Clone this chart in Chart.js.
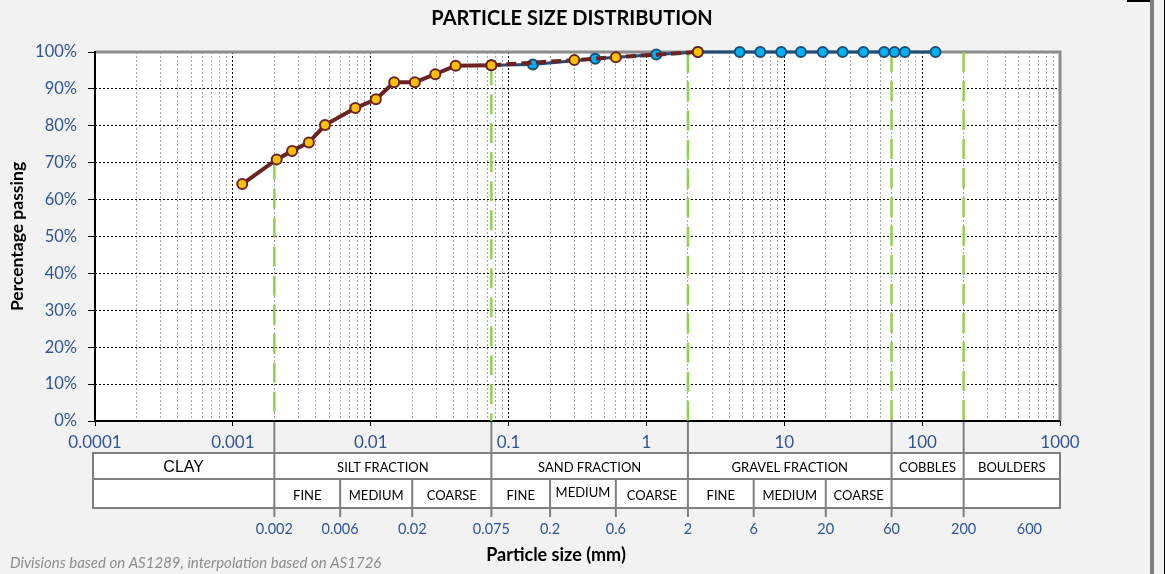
<!DOCTYPE html>
<html>
<head>
<meta charset="utf-8">
<title>Particle size distribution</title>
<script src="https://cdn.jsdelivr.net/npm/chart.js@4.4.1/dist/chart.umd.min.js"></script>
<style>
  html, body { margin: 0; padding: 0; background: #f2f2f2; }
  #wrap { width: 1165px; height: 574px; }
</style>
</head>
<body>
<div id="wrap"><canvas id="psd" width="1165" height="574"></canvas></div>
<script>
// hydrometer test, continued by the interpolated sieve points (dashed part)
const hydroSize = [0.00117, 0.00208, 0.00269, 0.00356, 0.00466, 0.00773, 0.0109, 0.0148, 0.0209, 0.0294, 0.0413, 0.075, 0.3, 0.6, 2.36];
const hydroPassing = [64.2, 70.9, 73.2, 75.5, 80.2, 84.8, 87.2, 91.8, 91.8, 94.0, 96.3, 96.4, 97.8, 98.6, 100];

// sieve analysis
const sieveSize = [0.075, 0.15, 0.425, 1.18, 2.36, 4.75, 6.7, 9.5, 13.2, 19, 26.5, 37.5, 53, 63, 75, 125];
const sievePassing = [96.4, 96.6, 98.2, 99.3, 100, 100, 100, 100, 100, 100, 100, 100, 100, 100, 100, 100];

// AS1289 division lines, drawn up to the interpolated % passing
const divisionSize = [0.002, 0.075, 2, 60, 200];
const divisionPassing = [70.8, 96.4, 99.8, 100, 100];

// classification table under the axis
const fractionBounds = [0.0001, 0.002, 0.075, 2, 60, 200, 1000];
const fractionNames = ['CLAY', 'SILT FRACTION', 'SAND FRACTION', 'GRAVEL FRACTION', 'COBBLES', 'BOULDERS'];
const subBounds = [0.002, 0.006, 0.02, 0.075, 0.2, 0.6, 2, 6, 20, 60];
const subNames = ['FINE', 'MEDIUM', 'COARSE', 'FINE', 'MEDIUM', 'COARSE', 'FINE', 'MEDIUM', 'COARSE'];
const boundaryLabels = ['0.002', '0.006', '0.02', '0.075', '0.2', '0.6', '2', '6', '20', '60', '200', '600'];

const blueText = '#2f5597';
const isDecade = v => Math.abs(Math.log10(v) - Math.round(Math.log10(v))) < 1e-6;

Chart.defaults.font.family = 'Lato';

const sheetPlugin = {
  id: 'sheet',
  beforeDraw(chart) {
    const { ctx, chartArea: a } = chart;
    ctx.save();
    ctx.fillStyle = '#f2f2f2';
    ctx.fillRect(0, 0, chart.width, chart.height);
    ctx.fillStyle = '#fff';
    ctx.fillRect(a.left, a.top, a.right - a.left, a.bottom - a.top);
    ctx.fillStyle = '#000';
    ctx.font = 'bold 20px Lato';
    ctx.textAlign = 'center';
    ctx.textBaseline = 'middle';
    ctx.fillText('PARTICLE SIZE DISTRIBUTION', 572, 19);
    ctx.restore();
  },
  beforeDatasetsDraw(chart) {
    const { ctx, chartArea: a } = chart;
    ctx.save();
    ctx.strokeStyle = '#8c8c8c';
    ctx.lineWidth = 3;
    ctx.beginPath();
    ctx.moveTo(a.left, a.top);
    ctx.lineTo(a.right, a.top);
    ctx.lineTo(a.right, a.bottom);
    ctx.stroke();
    ctx.strokeStyle = '#000';
    ctx.lineWidth = 2;
    ctx.beginPath();
    ctx.moveTo(a.left, a.top - 1);
    ctx.lineTo(a.left, a.bottom);
    ctx.lineTo(a.right, a.bottom);
    ctx.stroke();
    ctx.restore();
  },
  afterDraw(chart) {
    const { ctx, chartArea: a, scales: { x } } = chart;
    const px = v => x.getPixelForValue(v);
    const top = 453, mid = 479, bot = 508, lineEnd = 517;
    const left = px(fractionBounds[0]) - 2;
    const right = px(fractionBounds[fractionBounds.length - 1]);

    ctx.save();
    ctx.fillStyle = '#fff';
    ctx.fillRect(left, top, right - left, bot - top);
    ctx.strokeStyle = '#808080';
    ctx.lineWidth = 2;
    ctx.strokeRect(left, top, right - left, bot - top);
    ctx.beginPath();
    ctx.moveTo(left, mid);
    ctx.lineTo(right, mid);
    // main divisions run from the axis down through the table
    fractionBounds.slice(1, -1).forEach(v => {
      ctx.moveTo(px(v), a.bottom + 1);
      ctx.lineTo(px(v), lineEnd);
    });
    subBounds.forEach(v => {
      ctx.moveTo(px(v), mid);
      ctx.lineTo(px(v), lineEnd);
    });
    ctx.stroke();

    ctx.textAlign = 'center';
    ctx.textBaseline = 'middle';
    ctx.fillStyle = '#000';
    fractionNames.forEach((name, i) => {
      const l = i === 0 ? left : px(fractionBounds[i]);
      const r = px(fractionBounds[i + 1]);
      ctx.font = i === 0 ? '16px "Liberation Sans"' : '13px Lato';
      ctx.fillText(name, (l + r) / 2, 467.5);
    });
    ctx.font = '13px Lato';
    subNames.forEach((name, i) => {
      const c = (px(subBounds[i]) + px(subBounds[i + 1])) / 2;
      ctx.fillText(name, c, name === 'MEDIUM' && i === 4 ? 493 : 495.5);
    });

    ctx.fillStyle = blueText;
    ctx.font = '14.5px Lato';
    boundaryLabels.forEach(t => ctx.fillText(t, px(parseFloat(t)), 529));

    ctx.fillStyle = '#000';
    ctx.font = 'bold 18px Lato';
    ctx.fillText('Particle size (mm)', 556, 555);

    ctx.textAlign = 'left';
    ctx.fillStyle = '#8c8c8c';
    ctx.font = 'italic 15px Lato';
    ctx.fillText('Divisions based on AS1289, interpolation based on AS1726', 10, 563);

    // window frame at the right edge of the screenshot
    ctx.fillStyle = '#808080';
    ctx.fillRect(1150, 0, 4, chart.height);
    ctx.fillStyle = '#000';
    ctx.fillRect(1127, 0, 23, 2);
    ctx.fillRect(1164, 0, 1, chart.height);
    ctx.restore();
  }
};

const toPoints = (xs, ys) => xs.map((v, i) => ({ x: v, y: ys[i] }));

const divisionSets = divisionSize.map((v, i) => ({
  data: [{ x: v, y: divisionPassing[i] }, { x: v, y: 0 }],
  borderColor: '#92d050',
  borderWidth: 2.5,
  borderDash: [20, 9],
  pointRadius: 0,
  order: 3,
  clip: false
}));

new Chart(document.getElementById('psd'), {
  type: 'line',
  data: {
    datasets: [
      {
        label: 'Hydrometer',
        data: toPoints(hydroSize, hydroPassing),
        borderColor: '#6b2321',
        borderWidth: 4,
        pointBackgroundColor: '#ffc000',
        pointBorderColor: '#6b2321',
        pointBorderWidth: 2,
        pointRadius: 5,
        segment: {
          borderDash: c => (c.p0DataIndex >= 11 ? [10, 5] : undefined)
        },
        order: 1,
        clip: false
      },
      {
        label: 'Sieve',
        data: toPoints(sieveSize, sievePassing),
        borderColor: '#1f4e79',
        borderWidth: 3,
        pointBackgroundColor: '#00b0f0',
        pointBorderColor: '#1f4e79',
        pointBorderWidth: 2,
        pointRadius: 5,
        order: 2,
        clip: false
      },
      ...divisionSets
    ]
  },
  options: {
    responsive: false,
    animation: false,
    layout: { padding: { left: 0, right: 105, top: 52, bottom: 0 }, autoPadding: false },
    plugins: {
      legend: { display: false },
      tooltip: { enabled: false },
      title: { display: false }
    },
    scales: {
      x: {
        type: 'logarithmic',
        min: 0.0001,
        max: 1000,
        afterFit: s => { s.height = 153; },
        afterBuildTicks: s => {
          const ticks = [];
          for (let e = -4; e <= 2; e++) {
            for (let m = 1; m <= 9; m++) {
              ticks.push({ value: Number((m * Math.pow(10, e)).toPrecision(3)) });
            }
          }
          ticks.push({ value: 1000 });
          s.ticks = ticks;
        },
        ticks: {
          autoSkip: false,
          maxRotation: 0,
          padding: 6,
          color: blueText,
          font: { size: 17 },
          callback: v => (isDecade(v) ? String(v) : '')
        },
        grid: {
          color: c => (c.tick && isDecade(c.tick.value) ? '#000' : '#a6a6a6'),
          tickColor: c => (c.tick && isDecade(c.tick.value) ? '#000' : 'rgba(0,0,0,0)'),
          tickLength: 5,
          lineWidth: 1
        },
        border: { display: false, dash: [2, 2] }
      },
      y: {
        min: 0,
        max: 100,
        afterFit: s => { s.width = 95; },
        ticks: {
          stepSize: 10,
          padding: 11,
          color: blueText,
          font: { size: 16.5 },
          callback: v => v + '%'
        },
        grid: {
          color: '#000',
          tickColor: '#000',
          tickLength: 7,
          lineWidth: 1
        },
        border: { display: false, dash: [2, 2] },
        title: {
          display: true,
          text: 'Percentage passing',
          color: '#000',
          font: { size: 17.5, weight: 'bold' },
          padding: { top: 7 }
        }
      }
    }
  },
  plugins: [sheetPlugin]
});
</script>
</body>
</html>
